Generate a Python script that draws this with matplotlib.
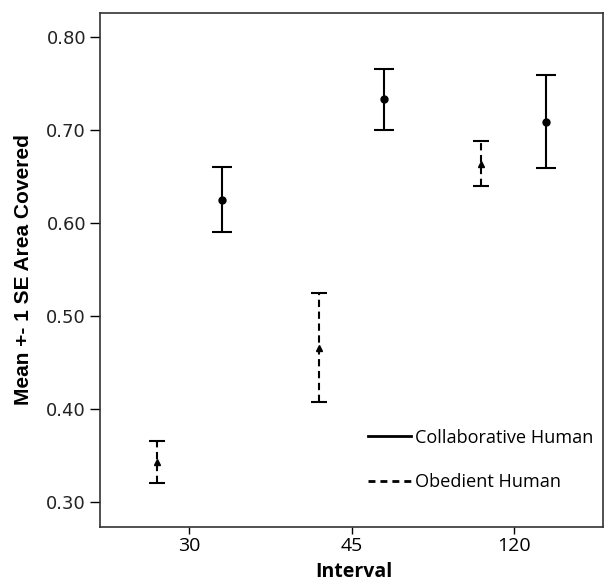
import matplotlib.pyplot as plt
import numpy as np
from matplotlib.lines import Line2D

# 데이터
intervals = ['30', '45', '120']
collab_mean = [0.625, 0.733, 0.709]
collab_se = [0.035, 0.033, 0.050]
obed_mean = [0.343, 0.466, 0.664]
obed_se = [0.023, 0.059, 0.024]

x = np.arange(len(intervals))

fig = plt.figure(figsize=(6.05, 5.83), dpi=100)
ax = fig.add_axes([100/605, 1-527/583, 503/605, 514/583])

# 협력형 (실선)
ax.errorbar(x + 0.2, collab_mean, yerr=collab_se, fmt='o', color='black',
            ms=5, capsize=7.5, elinewidth=1.5, capthick=1.5)
# 순종형 (점선)
eb = ax.errorbar(x - 0.2, obed_mean, yerr=obed_se, fmt='^', color='black',
                 ms=5, capsize=6, elinewidth=1.5, capthick=1.5)
eb[-1][0].set_linestyle((0, (3.5, 2.2)))

ax.set_xlim(-0.55, 2.55)
ax.set_ylim(0.273, 0.826)
ax.set_xticks(x)
ax.set_xticklabels(intervals, fontsize=14, family='Open Sans')
ax.set_yticks([0.3, 0.4, 0.5, 0.6, 0.7, 0.8])
ax.set_yticklabels(['0.30', '0.40', '0.50', '0.60', '0.70', '0.80'],
                   fontsize=13, family='DejaVu Sans', color='#222222')
ax.tick_params(axis='x', length=5, width=1, pad=2)
ax.tick_params(axis='y', length=7, width=1, pad=3)
for s in ax.spines.values():
    s.set_linewidth(1.2)
    s.set_color('#333333')

ax.set_ylabel('Mean +- 1 SE Area Covered', fontsize=15, fontweight='bold',
              family='Liberation Sans')
ax.yaxis.set_label_coords(-0.133, 0.5)
ax.set_xlabel('Interval', fontsize=14, fontweight='bold', family='Open Sans')
ax.xaxis.set_label_coords(0.504, -0.068)

handles = [Line2D([], [], color='black', lw=2),
           Line2D([], [], color='black', lw=2, ls=(0, (2.5, 1.8)))]
ax.legend(handles, ['Collaborative Human', 'Obedient Human'], loc='lower left',
          bbox_to_anchor=(0.533, 0.07), borderaxespad=0, borderpad=0,
          frameon=False, handlelength=2.35, handletextpad=0.25, labelspacing=1.45,
          prop={'family': 'Open Sans', 'size': 13.1})

plt.savefig('out.png', dpi=100)
